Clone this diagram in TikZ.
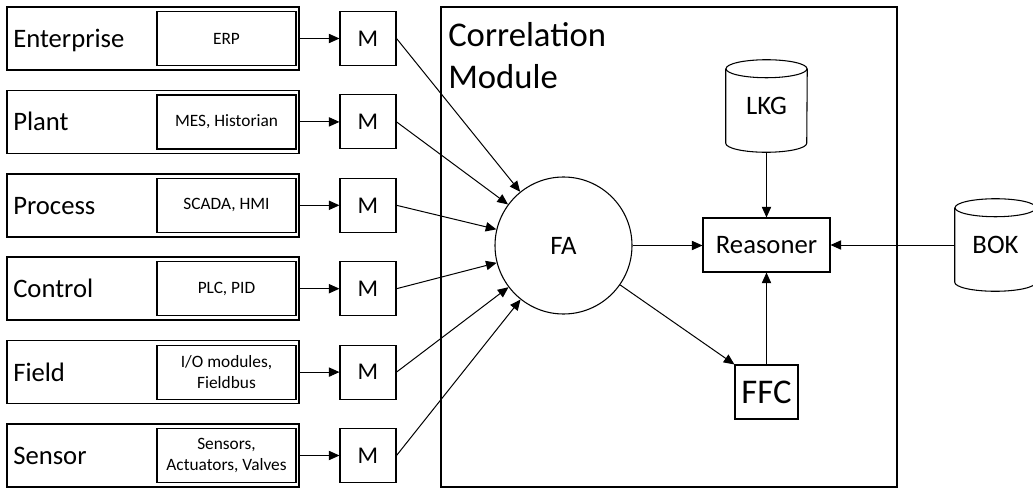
\documentclass[tikz,border=0pt]{standalone}
\usepackage{fontspec}
\setmainfont{Carlito}
\usetikzlibrary{arrows.meta}
\begin{document}
\begin{tikzpicture}[x=0.75pt,y=-0.75pt,
  levelbox/.style={draw, line width=1.1pt, minimum width=219pt, minimum height=47.25pt, inner sep=0},
  levellabel/.style={anchor=base west, inner sep=0, font=\fontsize{20}{24}\selectfont},
  sysbox/.style={draw, line width=0.9pt, minimum width=104.25pt, minimum height=40.5pt, inner sep=0,
    align=center, font=\fontsize{13}{15.6}\selectfont},
  mbox/.style={draw, line width=0.8pt, minimum width=42pt, minimum height=40.5pt, inner sep=0,
    font=\fontsize{18}{21.6}\selectfont},
  plainbox/.style={draw, line width=0.8pt, minimum height=40.5pt, inner sep=0},
  dbtext/.style={minimum width=60.75pt, minimum height=69pt, inner sep=0, font=\fontsize{20}{24}\selectfont},
  flow/.style={-{Triangle[length=8pt,width=7pt]}, line width=0.75pt},
  dbline/.style={line width=0.8pt}
]
\useasboundingbox (0,0) rectangle (1033,489);

% automation levels, their systems and monitors
\node[levelbox] (lv1) at (153,38.5) {};
\node[levellabel] (lb1) at (13,47.5) {Enterprise};
\node[sysbox] (sy1) at (226.5,38.5) {ERP};
\node[mbox] (m1) at (368,38.5) {M};

\node[levelbox] (lv2) at (153,121.9) {};
\node[levellabel] (lb2) at (13,130.9) {Plant};
\node[sysbox] (sy2) at (226.5,121.9) {MES, Historian};
\node[mbox] (m2) at (368,121.9) {M};

\node[levelbox] (lv3) at (153,205.3) {};
\node[levellabel] (lb3) at (13,214.3) {Process};
\node[sysbox] (sy3) at (226.5,205.3) {SCADA, HMI};
\node[mbox] (m3) at (368,205.3) {M};

\node[levelbox] (lv4) at (153,288.7) {};
\node[levellabel] (lb4) at (13,297.7) {Control};
\node[sysbox] (sy4) at (226.5,288.7) {PLC, PID};
\node[mbox] (m4) at (368,288.7) {M};

\node[levelbox] (lv5) at (153,372.1) {};
\node[levellabel] (lb5) at (13,381.1) {Field};
\node[sysbox] (sy5) at (226.5,372.1) {I/O modules,\\Fieldbus};
\node[mbox] (m5) at (368,372.1) {M};

\node[levelbox] (lv6) at (153,455.5) {};
\node[levellabel] (lb6) at (13,464.5) {Sensor};
\node[sysbox] (sy6) at (226.5,455.5) {Sensors,\\Actuators, Valves};
\node[mbox] (m6) at (368,455.5) {M};

% correlation module
\node[draw, line width=1.1pt, minimum width=342pt, minimum height=360pt, inner sep=0] (cm) at (669,247) {};
\node[anchor=north west, align=left, inner sep=0, font=\fontsize{26}{31.5}\selectfont] (cmt) at (448,22) {Correlation\\Module};

\node[draw, circle, line width=0.8pt, minimum size=102.75pt, inner sep=0, font=\fontsize{20}{24}\selectfont] (fa) at (563.5,245.5) {FA};
\node[plainbox, minimum width=95.25pt, font=\fontsize{20}{24}\selectfont] (rsn) at (766.5,245) {Reasoner};
\node[plainbox, minimum width=47.25pt, font=\fontsize{26}{31}\selectfont] (ffc) at (766.5,392) {FFC};

% knowledge stores
\node[dbtext] (lkg) at (766.5,106) {LKG};
\node[dbtext] (bok) at (995.5,245) {BOK};
\foreach \db in {lkg,bok}{
  \draw[dbline] ([yshift=-6.75pt]\db.north west) -- ([yshift=6.75pt]\db.south west)
    arc[start angle=180, end angle=360, x radius=30.375pt, y radius=6.75pt]
    -- ([yshift=-6.75pt]\db.north east);
  \draw[dbline] ([yshift=-6.75pt]\db.north) ellipse [x radius=30.375pt, y radius=6.75pt];
}

% data flow
\foreach \i in {1,...,6}{
  \draw[flow] (lv\i.east) -- (m\i.west);
  \draw[flow] (m\i.east) -- (fa);
}
\draw[flow] (fa.east) -- (fa.east -| rsn.west);
\draw[flow] (fa) -- (ffc.north west);
\draw[flow] (lkg.south) -- (rsn.north);
\draw[flow] (ffc.north) -- (rsn.south);
\draw[flow] (bok.west) -- (rsn.east);
\end{tikzpicture}
\end{document}
